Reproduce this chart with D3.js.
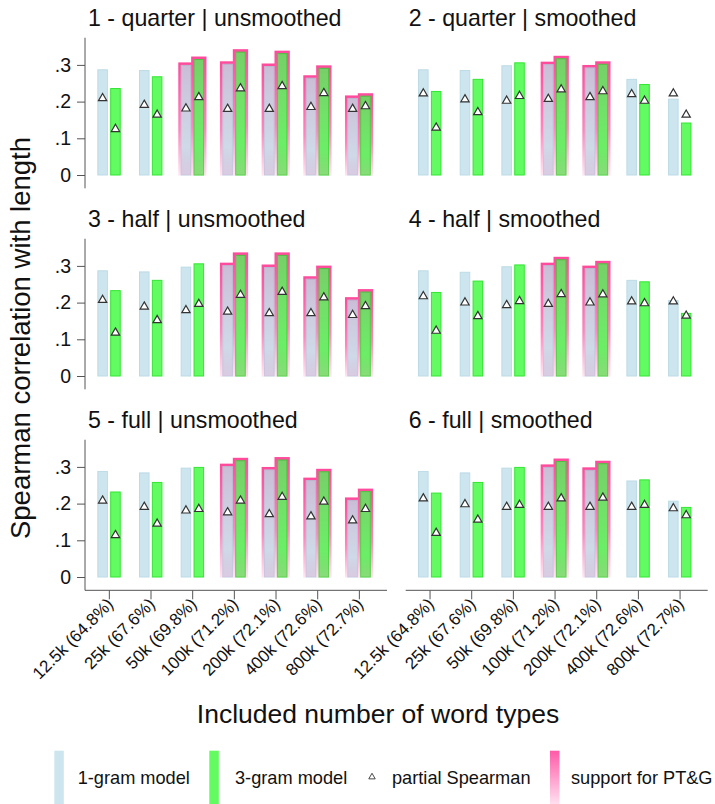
<!DOCTYPE html>
<html>
<head>
<meta charset="utf-8">
<script src="https://cdn.jsdelivr.net/npm/d3@7/dist/d3.min.js"></script>
<style>
  body { margin: 0; background: #fff; }
  svg { font-family: "Liberation Sans", Arial, sans-serif; }
</style>
</head>
<body>
<svg id="chart" width="715" height="804"></svg>
<script>
// data
var categories = ["12.5k (64.8%)", "25k (67.6%)", "50k (69.8%)", "100k (71.2%)", "200k (72.1%)", "400k (72.6%)", "800k (72.7%)"];
var panelTitles = ["1 - quarter | unsmoothed", "2 - quarter | smoothed", "3 - half | unsmoothed", "4 - half | smoothed", "5 - full | unsmoothed", "6 - full | smoothed"];
var yTicks = [0, 0.1, 0.2, 0.3];
var yTickLabels = ["0", ".1", ".2", ".3"];

// 1-gram model, one row per panel
var unigram = [
  [.288, .286, .300, .303, .297, .265, .210],
  [.288, .286, .299, .302, .293, .262, .208],
  [.288, .285, .298, .302, .297, .265, .208],
  [.288, .284, .299, .302, .294, .262, .207],
  [.289, .285, .298, .302, .293, .264, .210],
  [.289, .285, .298, .300, .292, .263, .208]
];
// 3-gram model
var trigram = [
  [.237, .269, .316, .336, .332, .292, .216],
  [.229, .262, .307, .318, .303, .248, .143],
  [.234, .262, .307, .330, .330, .294, .230],
  [.229, .260, .304, .318, .307, .258, .172],
  [.233, .259, .300, .318, .320, .288, .234],
  [.230, .259, .300, .316, .310, .266, .191]
];
// partial Spearman (triangles)
var partialUni = [
  [.209, .191, .181, .180, .180, .185, .180],
  [.222, .206, .202, .207, .212, .220, .222],
  [.207, .189, .179, .175, .171, .171, .166],
  [.217, .200, .193, .196, .200, .203, .203],
  [.208, .191, .181, .176, .171, .165, .154],
  [.214, .198, .191, .191, .191, .191, .187]
];
var partialTri = [
  [.125, .164, .212, .236, .242, .223, .187],
  [.129, .171, .215, .233, .228, .202, .164],
  [.118, .152, .196, .221, .229, .214, .190],
  [.123, .163, .204, .223, .222, .198, .164],
  [.114, .145, .185, .208, .218, .205, .185],
  [.120, .156, .196, .214, .216, .196, .168]
];
// support for PT&G (pink outline)
var support = [
  [0, 0, 1, 1, 1, 1, 1],
  [0, 0, 0, 1, 1, 0, 0],
  [0, 0, 0, 1, 1, 1, 1],
  [0, 0, 0, 1, 1, 0, 0],
  [0, 0, 0, 1, 1, 1, 1],
  [0, 0, 0, 1, 1, 0, 0]
];

var blueFill = "#cde5ee", blueStroke = "#bcdbe6";
var greenFill = "#62fb62", greenStroke = "#33e633";
var axisColor = "#555";

var svg = d3.select("#chart");

var defs = svg.append("defs");
var g1 = defs.append("linearGradient").attr("id", "pinkEdge").attr("x1", 0).attr("y1", 0).attr("x2", 0).attr("y2", 1);
g1.append("stop").attr("offset", "0%").attr("stop-color", "#ff4a9c");
g1.append("stop").attr("offset", "60%").attr("stop-color", "#ff86bf");
g1.append("stop").attr("offset", "100%").attr("stop-color", "#ffe6f2");
var g2 = defs.append("linearGradient").attr("id", "pinkVeil").attr("x1", 0).attr("y1", 0).attr("x2", 0).attr("y2", 1);
g2.append("stop").attr("offset", "0%").attr("stop-color", "#c0307f").attr("stop-opacity", 0.22);
g2.append("stop").attr("offset", "75%").attr("stop-color", "#e050a0").attr("stop-opacity", 0.08);
g2.append("stop").attr("offset", "100%").attr("stop-color", "#ff80c0").attr("stop-opacity", 0.25);
var g3 = defs.append("linearGradient").attr("id", "pinkLegend").attr("x1", 0).attr("y1", 0).attr("x2", 0).attr("y2", 1);
g3.append("stop").attr("offset", "0%").attr("stop-color", "#ff5aa8");
g3.append("stop").attr("offset", "100%").attr("stop-color", "#ffe2f0");

var colShift = 320.7, rowShift = 201;
var tri = d3.symbol().type(d3.symbolTriangle).size(30);

panelTitles.forEach(function(title, p) {
  var col = p % 2, row = Math.floor(p / 2);
  var dx = col * colShift;
  var zero = 175 + row * rowShift;

  var x = d3.scaleBand().domain(categories).range([88.5 + dx, 380.2 + dx]);
  var xs = d3.scaleBand().domain(["uni", "tri"]).range([-12, 11.4]).paddingInner(0.18);
  var y = d3.scaleLinear().domain([0, 0.1]).range([zero, zero - 36.7]);

  var g = svg.append("g");

  g.append("text")
    .attr("x", 88 + dx).attr("y", y(0) - 149)
    .attr("font-size", 23.2).attr("fill", "#111")
    .text(title);

  if (col === 0) {
    var yAxis = g.append("g").attr("transform", "translate(85,0)")
      .call(d3.axisLeft(y).tickValues(yTicks).tickSize(8).tickPadding(6)
        .tickFormat(function(d, i) { return yTickLabels[i]; }));
    yAxis.select(".domain").remove();
    yAxis.selectAll("line").attr("stroke", axisColor);
    yAxis.selectAll("text").attr("font-size", 19.5).attr("fill", "#111")
      .attr("font-family", "Liberation Sans, Arial, sans-serif");
    g.append("line").attr("x1", 85).attr("x2", 85)
      .attr("y1", y(-0.0363)).attr("y2", y(0.374))
      .attr("stroke", axisColor);
  }

  if (row === 2) {
    var xAxis = g.append("g").attr("transform", "translate(0," + y(-0.0363) + ")")
      .call(d3.axisBottom(x).tickSize(9).tickSizeOuter(0).tickFormat(""));
    xAxis.select(".domain").remove();
    xAxis.selectAll("line").attr("stroke", axisColor);
    g.append("line").attr("x1", 85 + dx).attr("x2", 387 + dx)
      .attr("y1", y(-0.0363)).attr("y2", y(-0.0363))
      .attr("stroke", axisColor);
    g.selectAll(".xlab").data(categories).enter().append("text")
      .attr("class", "xlab")
      .attr("transform", function(d) {
        return "translate(" + (x(d) + x.bandwidth() / 2 + 5) + "," + (y(-0.0363) + 15) + ") rotate(-45)";
      })
      .attr("text-anchor", "end").attr("font-size", 17).attr("fill", "#111")
      .text(function(d) { return d; });
  }

  var rows = categories.map(function(c, i) {
    return { cat: c, uni: unigram[p][i], tri: trigram[p][i], pu: partialUni[p][i], pt: partialTri[p][i], s: support[p][i] };
  });

  var groups = g.selectAll(".grp").data(rows).enter().append("g")
    .attr("transform", function(d) { return "translate(" + (x(d.cat) + x.bandwidth() / 2) + ",0)"; });

  groups.each(function(d) {
    var gg = d3.select(this);
    var bars = [["uni", d.uni, blueFill, blueStroke], ["tri", d.tri, greenFill, greenStroke]];
    if (d.s) {
      bars.forEach(function(b) {
        gg.append("rect")
          .attr("x", xs(b[0]) - 2.4).attr("width", xs.bandwidth() + 4.8)
          .attr("y", y(b[1]) - 2.5).attr("height", y(0) - y(b[1]) + 3.2)
          .attr("fill", "url(#pinkEdge)");
      });
    }
    bars.forEach(function(b) {
      gg.append("rect")
        .attr("x", xs(b[0]) + 0.5).attr("width", xs.bandwidth() - 1)
        .attr("y", y(b[1]) + 0.5).attr("height", y(0) - y(b[1]) - 0.5)
        .attr("fill", b[2]).attr("stroke", b[3]).attr("stroke-width", 1);
      if (d.s) {
        gg.append("rect")
          .attr("x", xs(b[0])).attr("width", xs.bandwidth())
          .attr("y", y(b[1])).attr("height", y(0) - y(b[1]))
          .attr("fill", "url(#pinkVeil)");
      }
    });
    [["uni", d.pu], ["tri", d.pt]].forEach(function(t) {
      gg.append("path").attr("d", tri)
        .attr("transform", "translate(" + (xs(t[0]) + xs.bandwidth() / 2) + "," + y(t[1]) + ")")
        .attr("fill", "#fff").attr("stroke", "#333").attr("stroke-width", 1.2);
    });
  });
});

// axis titles
svg.append("text")
  .attr("transform", "translate(30,338) rotate(-90)")
  .attr("text-anchor", "middle").attr("font-size", 27.5).attr("fill", "#111")
  .text("Spearman correlation with length");
svg.append("text")
  .attr("x", 378).attr("y", 723)
  .attr("text-anchor", "middle").attr("font-size", 26.5).attr("fill", "#111")
  .text("Included number of word types");

// legend
var legendItems = [
  { kind: "rect", fill: blueFill, x: 54.3, label: "1-gram model", tx: 77.7 },
  { kind: "rect", fill: greenFill, x: 209.3, label: "3-gram model", tx: 235 },
  { kind: "tri", x: 372, label: "partial Spearman", tx: 392 },
  { kind: "rect", fill: "url(#pinkLegend)", x: 550, label: "support for PT&G", tx: 571 }
];
var leg = svg.append("g");
legendItems.forEach(function(it) {
  if (it.kind === "rect") {
    leg.append("rect").attr("x", it.x).attr("y", 750.7).attr("width", 9.5).attr("height", 54)
      .attr("fill", it.fill);
  } else {
    leg.append("path").attr("d", d3.symbol().type(d3.symbolTriangle).size(18))
      .attr("transform", "translate(" + it.x + ",777)")
      .attr("fill", "#fff").attr("stroke", "#333").attr("stroke-width", 0.9);
  }
  leg.append("text").attr("x", it.tx).attr("y", 784)
    .attr("font-size", 18.2).attr("fill", "#111").text(it.label);
});
</script>
</body>
</html>
